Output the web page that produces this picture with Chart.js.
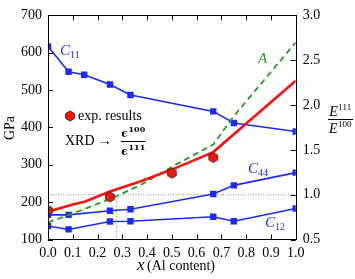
<!DOCTYPE html>
<html>
<head>
<meta charset="utf-8">
<script src="https://cdn.jsdelivr.net/npm/chart.js@4"></script>
<style>
  html, body { margin: 0; padding: 0; background: #fff; }
  #chart { display: block; }
</style>
</head>
<body>
<canvas id="chart" width="355" height="279"></canvas>
<script>
// Elastic constants (GPa, left axis)
const xC11 = [0, 0.083, 0.146, 0.25, 0.333, 0.667, 0.75, 1.0];
const c11 = [617, 549, 541, 515, 487, 443, 412, 389];
const xC = [0, 0.083, 0.25, 0.333, 0.667, 0.75, 1.0];
const c44 = [166, 166, 177, 181, 222, 245, 279];
const c12 = [136, 127, 148, 149, 161, 149, 183];

// Ratios (right axis)
const xRatio = [0, 0.1, 0.15, 0.25, 0.375, 0.5, 0.667, 1.0];
const ratioE = [0.81, 0.89, 0.925, 1.035, 1.15, 1.28, 1.475, 2.27];
const xAniso = [0, 0.1, 0.25, 0.375, 0.5, 0.667, 0.75, 1.0];
const aniso = [0.69, 0.79, 0.95, 1.11, 1.31, 1.56, 1.875, 2.7];
const xExp = [0, 0.25, 0.5, 0.667];
const expXRD = [0.825, 0.975, 1.24, 1.415];

// isotropy guide (A = 1)
const xIso = 0.277;

const BLUE = '#1b2cf2';
const RED = '#f01612';
const GREEN = '#2c9a26';
const SERIF = '"Liberation Serif", "DejaVu Serif", serif';

// hexagon marker for experimental points
const hexMarker = (function() {
    const c = document.createElement('canvas');
    c.width = 12; c.height = 12;
    const g = c.getContext('2d');
    g.beginPath();
    for (let i = 0; i < 6; i++) {
        const a = Math.PI / 3 * i + Math.PI / 6;
        g.lineTo(6 + 5 * Math.cos(a), 6 + 5 * Math.sin(a));
    }
    g.closePath();
    g.fillStyle = '#ec1a10';
    g.fill();
    g.strokeStyle = '#5e1a14';
    g.lineWidth = 1;
    g.stroke();
    return c;
})();

function pts(xs, ys) {
    return xs.map((x, i) => ({x: x, y: ys[i]}));
}

function subText(ctx, main, sub, x, y, color) {
    ctx.fillStyle = color;
    ctx.textAlign = 'left';
    ctx.textBaseline = 'alphabetic';
    ctx.font = 'italic 15px ' + SERIF;
    ctx.fillText(main, x, y);
    const w = ctx.measureText(main).width;
    ctx.font = '10px ' + SERIF;
    ctx.fillText(sub, x + w, y + 3);
}

function supWidth(ctx, main, mainFont, sup, supFont) {
    ctx.font = mainFont;
    const w1 = ctx.measureText(main).width;
    ctx.font = supFont;
    return w1 + ctx.measureText(sup).width;
}

function supText(ctx, main, mainFont, sup, supFont, cx, y, rise) {
    const w = supWidth(ctx, main, mainFont, sup, supFont);
    let x = cx - w / 2;
    ctx.textAlign = 'left';
    ctx.textBaseline = 'alphabetic';
    ctx.font = mainFont;
    ctx.fillText(main, x, y);
    x += ctx.measureText(main).width;
    ctx.font = supFont;
    ctx.fillText(sup, x + 0.5, y - rise);
}

const framePlugin = {
    id: 'frame',
    afterDraw(chart) {
        const ctx = chart.ctx;
        const a = chart.chartArea;
        const sx = chart.scales.x, sy = chart.scales.y, sy1 = chart.scales.y1;
        ctx.save();
        ctx.strokeStyle = '#000';
        ctx.lineWidth = 1;
        ctx.strokeRect(Math.round(a.left) + 0.5, Math.round(a.top) + 0.5,
            Math.round(a.right - a.left), Math.round(a.bottom - a.top));

        // inward ticks
        ctx.beginPath();
        sx.ticks.forEach(t => {
            const px = Math.round(sx.getPixelForValue(t.value)) + 0.5;
            ctx.moveTo(px, a.bottom); ctx.lineTo(px, a.bottom - 5);
            ctx.moveTo(px, a.top); ctx.lineTo(px, a.top + 5);
        });
        sy.ticks.forEach(t => {
            const py = Math.round(sy.getPixelForValue(t.value)) + 0.5;
            ctx.moveTo(a.left, py); ctx.lineTo(a.left + 5, py);
        });
        sy1.ticks.forEach(t => {
            const py = Math.round(sy1.getPixelForValue(t.value)) + 0.5;
            ctx.moveTo(a.right, py); ctx.lineTo(a.right - 5, py);
        });
        ctx.stroke();

        // curve labels
        subText(ctx, 'C', '11', 60, 55, BLUE);
        subText(ctx, 'C', '44', 248, 173, BLUE);
        subText(ctx, 'C', '12', 265, 227, BLUE);
        ctx.fillStyle = GREEN;
        ctx.font = 'italic 15px ' + SERIF;
        ctx.fillText('A', 258, 63);

        // legend-like note
        ctx.drawImage(hexMarker, 70 - 6, 116 - 6);
        ctx.fillStyle = '#000';
        ctx.font = '14px ' + SERIF;
        ctx.textBaseline = 'middle';
        ctx.fillText('exp. results', 78, 116);
        ctx.fillText('XRD \u2192', 65, 141);
        const epsMain = 'bold 11px "DejaVu Serif", serif';
        const epsSup = 'bold 8px "DejaVu Serif", serif';
        supText(ctx, '\u03f5', epsMain, '100', epsSup, 133, 137, 5);
        supText(ctx, '\u03f5', epsMain, '111', epsSup, 133, 155, 5);
        ctx.beginPath();
        ctx.moveTo(121, 141.5); ctx.lineTo(145, 141.5);
        ctx.stroke();

        // right axis title
        const eMain = 'italic 14px ' + SERIF;
        const eSup = '9px ' + SERIF;
        supText(ctx, 'E', eMain, '111', eSup, 340, 116, 6);
        supText(ctx, 'E', eMain, '100', eSup, 340, 133, 6);
        ctx.beginPath();
        ctx.moveTo(328, 119.5); ctx.lineTo(353, 119.5);
        ctx.stroke();

        // left axis title
        ctx.save();
        ctx.translate(10, 128);
        ctx.rotate(-Math.PI / 2);
        ctx.textAlign = 'center';
        ctx.textBaseline = 'middle';
        ctx.font = '14px ' + SERIF;
        ctx.fillText('GPa', 0, 0);
        ctx.restore();

        // x axis title
        ctx.textAlign = 'left';
        ctx.textBaseline = 'alphabetic';
        ctx.font = 'italic 17px ' + SERIF;
        ctx.fillText('x', 137, 270);
        ctx.font = '14px ' + SERIF;
        ctx.fillText('(Al content)', 147, 270);
        ctx.restore();
    }
};

const tickFont = {family: SERIF, size: 14};

new Chart(document.getElementById('chart'), {
    type: 'line',
    data: {
        datasets: [
            {
                data: pts(xExp, expXRD), yAxisID: 'y1', showLine: false,
                pointStyle: hexMarker, pointRadius: 6
            },
            {
                data: pts(xRatio, ratioE), yAxisID: 'y1',
                borderColor: RED, borderWidth: 2.6, pointRadius: 0
            },
            {
                data: pts(xAniso, aniso), yAxisID: 'y1',
                borderColor: GREEN, borderWidth: 1.8, borderDash: [6, 4], pointRadius: 0
            },
            {
                data: pts(xC11, c11), yAxisID: 'y',
                borderColor: BLUE, backgroundColor: BLUE, borderWidth: 1.6,
                pointStyle: 'rect', pointRadius: 3.4
            },
            {
                data: pts(xC, c44), yAxisID: 'y',
                borderColor: BLUE, backgroundColor: BLUE, borderWidth: 1.6,
                pointStyle: 'rect', pointRadius: 3.4
            },
            {
                data: pts(xC, c12), yAxisID: 'y',
                borderColor: BLUE, backgroundColor: BLUE, borderWidth: 1.6,
                pointStyle: 'rect', pointRadius: 3.4
            },
            {
                data: [{x: 0, y: 1}, {x: 1, y: 1}], yAxisID: 'y1',
                borderColor: '#777', borderWidth: 0.8, borderDash: [1, 1.5], pointRadius: 0
            },
            {
                data: [{x: xIso, y: 0.5}, {x: xIso, y: 1}], yAxisID: 'y1',
                borderColor: '#777', borderWidth: 0.8, borderDash: [1, 1.5], pointRadius: 0
            }
        ]
    },
    options: {
        responsive: false,
        animation: false,
        events: [],
        layout: {padding: {top: 8.5}},
        plugins: {legend: {display: false}, tooltip: {enabled: false}},
        elements: {line: {tension: 0}},
        scales: {
            x: {
                type: 'linear', min: 0, max: 1,
                grid: {display: false, drawTicks: false},
                border: {display: false},
                ticks: {
                    stepSize: 0.1, font: tickFont, color: '#000', padding: 5,
                    maxRotation: 0, autoSkip: false,
                    callback: v => v.toFixed(1)
                },
                afterFit: s => { s.height = 39.5; }
            },
            y: {
                position: 'left', min: 100, max: 700,
                grid: {display: false, drawTicks: false},
                border: {display: false},
                ticks: {stepSize: 100, font: tickFont, color: '#000', padding: 6},
                afterFit: s => { s.width = 48; }
            },
            y1: {
                position: 'right', min: 0.5, max: 3.0,
                grid: {display: false, drawTicks: false},
                border: {display: false},
                ticks: {
                    stepSize: 0.5, font: tickFont, color: '#000', padding: 7,
                    callback: v => v.toFixed(1)
                },
                afterFit: s => { s.width = 59.3; }
            }
        }
    },
    plugins: [framePlugin]
});
</script>
</body>
</html>
